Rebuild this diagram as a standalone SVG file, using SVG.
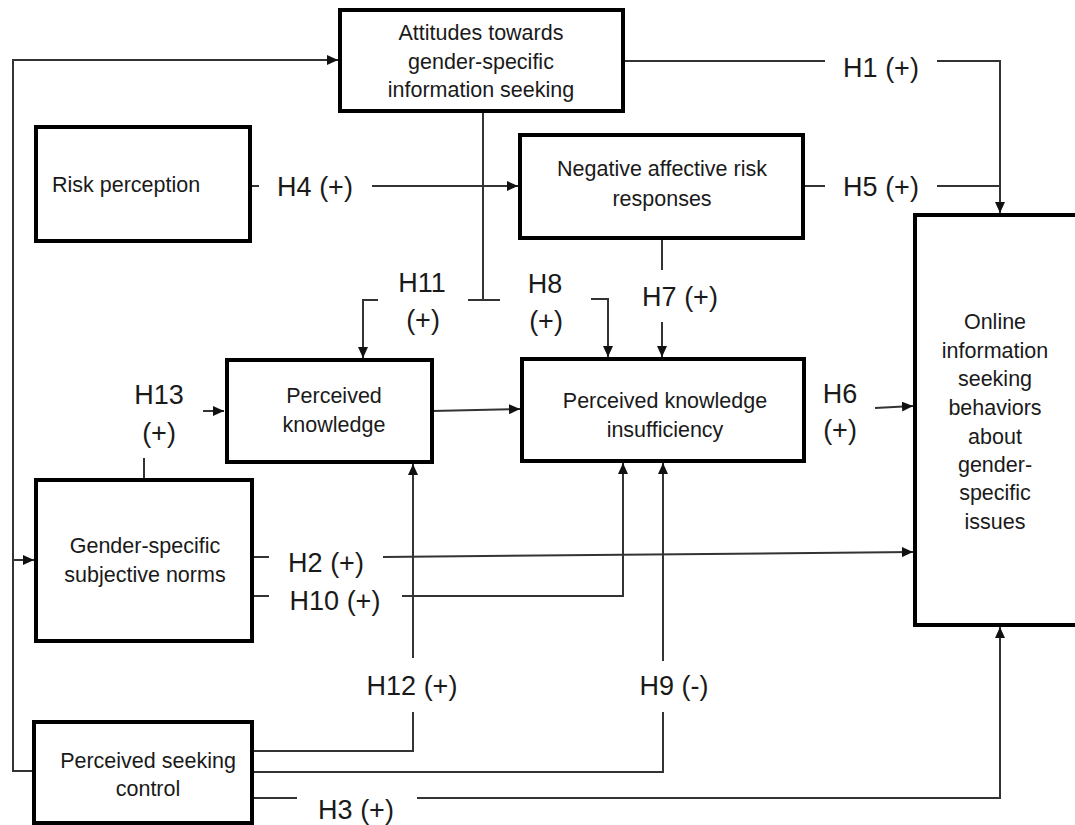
<svg xmlns="http://www.w3.org/2000/svg" width="1075" height="825" viewBox="0 0 1075 825">
<style>
.box{fill:#fff;stroke:#000;stroke-width:4}
.nt{font-family:"Liberation Sans",Arial,sans-serif;font-size:21.5px;fill:#1a1a1a;text-anchor:middle}
.lb{font-family:"Liberation Sans",Arial,sans-serif;font-size:27px;fill:#1a1a1a;text-anchor:middle}
.c{fill:none;stroke:#333;stroke-width:2}
.a{marker-end:url(#arr)}
</style>
<defs>
<marker id="arr" markerUnits="userSpaceOnUse" markerWidth="11" markerHeight="10" refX="11" refY="5" orient="auto">
<path d="M0,0 L11,5 L0,10 z" fill="#111"/>
</marker>
</defs>
<rect width="1075" height="825" fill="#fff"/>

<g id="connectors">
<path class="c a" d="M34,771 H13 V60 H338"/>
<path class="c a" d="M13,560 H34"/>
<path class="c" d="M623,61 H825"/>
<path class="c a" d="M937,61 H1000 V213"/>
<path class="c" d="M803,186 H825"/>
<path class="c" d="M937,186 H1000"/>
<path class="c" d="M250,186 H259"/>
<path class="c a" d="M372,186 H518"/>
<path class="c" d="M483,111 V300"/>
<path class="c" d="M468,300 H500"/>
<path class="c a" d="M378,300 H363 V358"/>
<path class="c a" d="M591,299 H608 V357"/>
<path class="c" d="M662,238 V270"/>
<path class="c a" d="M662,322 V357"/>
<path class="c a" d="M432,411 L520,409"/>
<path class="c a" d="M875,408 L913,406"/>
<path class="c" d="M144,480 V458"/>
<path class="c a" d="M203,411 H224"/>
<path class="c" d="M252,557 H269"/>
<path class="c a" d="M383,557 L913,552"/>
<path class="c" d="M247,596 H269"/>
<path class="c a" d="M402,596 H623 V463"/>
<path class="c" d="M252,751 H413 V712"/>
<path class="c a" d="M413,658 V464"/>
<path class="c" d="M252,772 H663 V712"/>
<path class="c a" d="M663,661 V463"/>
<path class="c" d="M252,798 H297"/>
<path class="c a" d="M417,798 H1000 V627"/>
<text class="lb" x="881" y="77">H1 (+)</text>
<text class="lb" x="881" y="196">H5 (+)</text>
<text class="lb" x="315" y="196">H4 (+)</text>
<text class="lb" x="422" y="292">H11</text>
<text class="lb" x="423" y="329">(+)</text>
<text class="lb" x="545" y="293">H8</text>
<text class="lb" x="546" y="330">(+)</text>
<text class="lb" x="680" y="306">H7 (+)</text>
<text class="lb" x="159" y="404">H13</text>
<text class="lb" x="159" y="442">(+)</text>
<text class="lb" x="840" y="403">H6</text>
<text class="lb" x="840" y="439">(+)</text>
<text class="lb" x="326" y="572">H2 (+)</text>
<text class="lb" x="335" y="610">H10 (+)</text>
<text class="lb" x="412" y="695">H12 (+)</text>
<text class="lb" x="674" y="695">H9 (-)</text>
<text class="lb" x="356" y="819">H3 (+)</text>
</g>

<g id="attitudes">
<rect class="box" x="340" y="10" width="283" height="101"/>
<text class="nt" x="481" y="40">Attitudes towards</text>
<text class="nt" x="481" y="69">gender-specific</text>
<text class="nt" x="481" y="97">information seeking</text>
</g>

<g id="risk-perception">
<rect class="box" x="36" y="127" width="214" height="114"/>
<text class="nt" x="52" y="192" style="text-anchor:start">Risk perception</text>
</g>

<g id="negative-affect">
<rect class="box" x="520" y="135" width="283" height="103"/>
<text class="nt" x="662" y="176">Negative affective risk</text>
<text class="nt" x="662" y="206">responses</text>
</g>

<g id="perceived-knowledge">
<rect class="box" x="227" y="360" width="205" height="102"/>
<text class="nt" x="334" y="403">Perceived</text>
<text class="nt" x="334" y="432">knowledge</text>
</g>

<g id="knowledge-insufficiency">
<rect class="box" x="522" y="359" width="282" height="102"/>
<text class="nt" x="665" y="408">Perceived knowledge</text>
<text class="nt" x="665" y="437">insufficiency</text>
</g>

<g id="subjective-norms">
<rect class="box" x="36" y="480" width="216" height="161"/>
<text class="nt" x="145" y="553">Gender-specific</text>
<text class="nt" x="145" y="582">subjective norms</text>
</g>

<g id="seeking-control">
<rect class="box" x="34" y="722" width="218" height="101"/>
<text class="nt" x="148" y="768">Perceived seeking</text>
<text class="nt" x="148" y="796">control</text>
</g>

<g id="online-seeking">
<rect class="box" x="915" y="215" width="175" height="410"/>
<text class="nt" x="995" y="329">Online</text>
<text class="nt" x="995" y="358">information</text>
<text class="nt" x="995" y="386">seeking</text>
<text class="nt" x="995" y="415">behaviors</text>
<text class="nt" x="995" y="444">about</text>
<text class="nt" x="995" y="472">gender-</text>
<text class="nt" x="995" y="500">specific</text>
<text class="nt" x="995" y="529">issues</text>
</g>
</svg>
